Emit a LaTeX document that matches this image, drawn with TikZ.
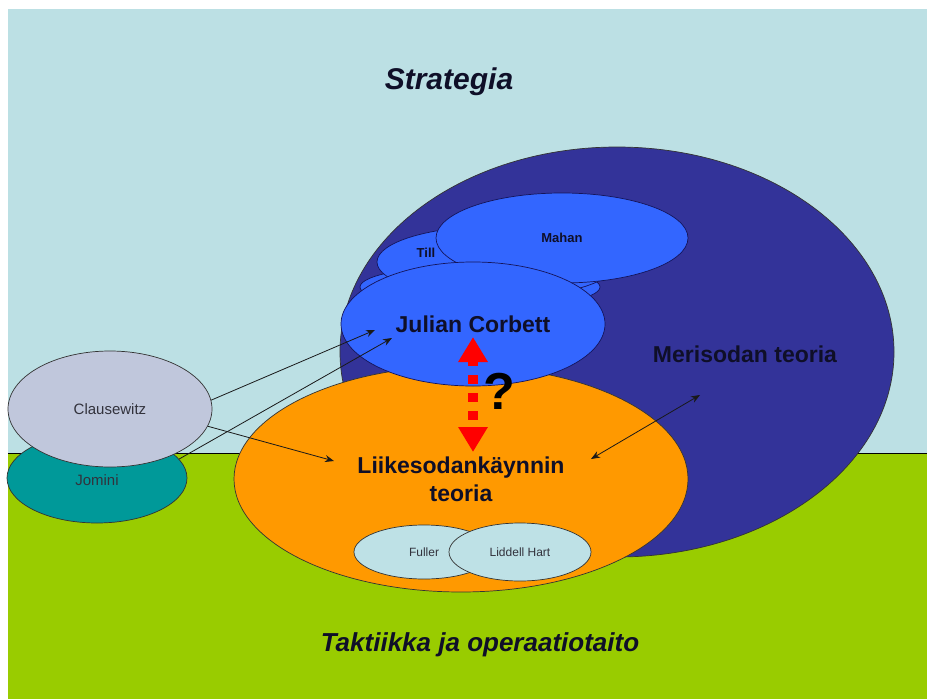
\documentclass[tikz,border=0pt]{standalone}
\usepackage{fontspec}
\setmainfont{Liberation Sans}
\usetikzlibrary{shapes.geometric,arrows.meta}
\definecolor{sky}{RGB}{188,224,228}
\definecolor{grass}{RGB}{153,204,0}
\definecolor{navyell}{RGB}{51,51,153}
\definecolor{blueell}{RGB}{51,102,255}
\definecolor{orangeell}{RGB}{255,153,0}
\definecolor{clausell}{RGB}{192,199,220}
\definecolor{tealell}{RGB}{0,153,153}
\definecolor{paleell}{RGB}{190,225,230}
\definecolor{txtdark}{RGB}{15,15,40}
\definecolor{txtgrey}{RGB}{50,50,60}
\definecolor{edgeblue}{RGB}{20,20,90}
\begin{document}
\begin{tikzpicture}[x=1pt,y=-1pt,
  ell/.style={ellipse, draw=black!80, line width=0.7pt, inner sep=0pt},
  blueellipse/.style={ell, fill=blueell, draw=edgeblue},
  bigtxt/.style={font=\fontsize{23}{28}\selectfont\bfseries, text=txtdark, align=center},
  smalltxt/.style={font=\fontsize{13}{13}\selectfont\bfseries, text=txtdark},
  regtxt/.style={font=\fontsize{15}{15}\selectfont, text=txtgrey},
  tinytxt/.style={font=\fontsize{12}{12}\selectfont, text=txtgrey},
  conn/.style={draw=black!90, line width=0.8pt, -{Stealth[length=9pt,width=7pt]}},
  dconn/.style={draw=black!90, line width=0.8pt, {Stealth[length=9pt,width=7pt]}-{Stealth[length=9pt,width=7pt]}},
  redarr/.style={draw=red, line width=10pt, dash pattern=on 9pt off 9pt, dash phase=3pt,
     {Triangle[length=25pt,width=28pt]}-{Triangle[length=25pt,width=28pt]}}
]
\useasboundingbox (0,0) rectangle (927,699);
\fill[white] (0,0) rectangle (927,699);
\fill[sky] (8,9) rectangle (927,453);
\fill[grass] (8,453) rectangle (927,699);
\draw[line width=0.8pt, black] (8,453) -- (927,453);

% titles
\node[font=\fontsize{30}{30}\selectfont\bfseries\itshape, text=txtdark] (strat) at (449,82) {Strategia};
\node[font=\fontsize{26}{26}\selectfont\bfseries\itshape, text=txtdark] (takt) at (480,645) {Taktiikka ja operaatiotaito};

% naval theory
\node[ell, fill=navyell, minimum width=554pt, minimum height=410pt] (meri) at (617,352) {};
\node[blueellipse, minimum width=240pt, minimum height=44pt] (third) at (480,287) {};
\node[blueellipse, minimum width=240pt, minimum height=72pt] (till) at (497,262) {};
\node[blueellipse, minimum width=252pt, minimum height=90pt, smalltxt] (mahan) at (562,238) {Mahan};
\node[smalltxt] (tilltxt) at (426,253) {Till};
\node[bigtxt] (meritxt) at (745,354) {Merisodan teoria};

% manoeuvre theory
\node[ell, fill=orangeell, minimum width=454pt, minimum height=226pt, bigtxt] (liike) at (461,479) {Liikesodankäynnin\\teoria};
\node[blueellipse, minimum width=264pt, minimum height=124pt, bigtxt] (corbett) at (473,324) {Julian Corbett};
\node[ell, fill=paleell, minimum width=140pt, minimum height=54pt, tinytxt] (fuller) at (424,552) {Fuller};
\node[ell, fill=paleell, minimum width=142pt, minimum height=58pt, tinytxt] (liddell) at (520,552) {Liddell Hart};

% classics
\node[ell, fill=tealell, minimum width=180pt, minimum height=90pt, regtxt, text depth=0pt] (jomini) at (97,478) {};
\node[regtxt] (jominitxt) at (97,480) {Jomini};
\node[ell, fill=clausell, minimum width=204pt, minimum height=116pt, regtxt] (claus) at (110,409) {Clausewitz};

% connectors
\coordinate (a1) at (375,330);
\coordinate (a2) at (392,338);
\coordinate (a3) at (334,461);
\coordinate (m1) at (591,459);
\coordinate (m2) at (700,395);
\coordinate (r1) at (473,337);
\coordinate (r2) at (473,452);
\draw[conn] (claus.5) -- (a1);
\draw[conn] (jomini.13) -- (a2);
\draw[conn] (claus.-10) -- (a3);
\draw[dconn] (m1) -- (m2);
\draw[redarr] (r1) -- (r2);
\node[font=\fontsize{52}{52}\selectfont\bfseries, text=black] (qm) at (499,391) {?};
\end{tikzpicture}
\end{document}
